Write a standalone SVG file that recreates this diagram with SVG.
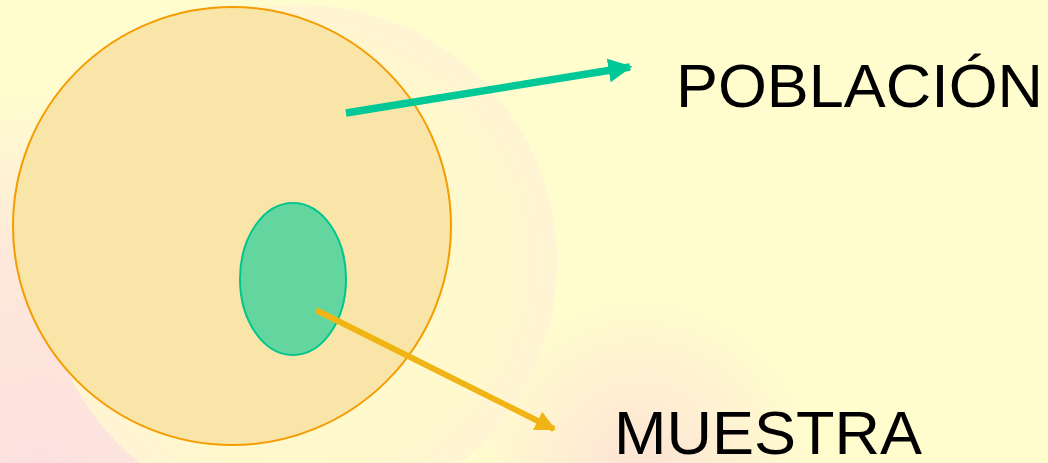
<svg xmlns="http://www.w3.org/2000/svg" width="1048" height="463" viewBox="0 0 1048 463">
  <defs>
    <radialGradient id="pinkCorner" gradientUnits="userSpaceOnUse" cx="40" cy="470" r="380">
      <stop offset="0" stop-color="#fde0df" stop-opacity="1"/>
      <stop offset="0.55" stop-color="#fde4dc" stop-opacity="0.85"/>
      <stop offset="1" stop-color="#fde6dc" stop-opacity="0"/>
    </radialGradient>
    <radialGradient id="pinkBottom" gradientUnits="userSpaceOnUse" cx="640" cy="470" r="170">
      <stop offset="0" stop-color="#fde0d6" stop-opacity="0.9"/>
      <stop offset="1" stop-color="#fde0d6" stop-opacity="0"/>
    </radialGradient>
    <radialGradient id="glow" cx="0.5" cy="0.5" r="0.5">
      <stop offset="0" stop-color="#fffbd0"/>
      <stop offset="0.8" stop-color="#fff8cd"/>
      <stop offset="1" stop-color="#fff4d4"/>
    </radialGradient>
    <marker id="headTeal" viewBox="0 0 10 10" refX="9" refY="5" markerWidth="3.2" markerHeight="3.2" orient="auto" markerUnits="strokeWidth">
      <path d="M0,0 L10,5 L0,10 Z" fill="#00c896"/>
    </marker>
    <marker id="headGold" viewBox="0 0 10 10" refX="9" refY="5" markerWidth="3.4" markerHeight="3.4" orient="auto" markerUnits="strokeWidth">
      <path d="M0,0 L10,5 L0,10 Z" fill="#f0b414"/>
    </marker>
  </defs>
  <style>
    .label { font-family: "Liberation Sans", Arial, sans-serif; font-size: 61px; fill: #000000; }
    .conn { fill: none; }
  </style>

  <g id="background">
    <rect x="0" y="0" width="1048" height="463" fill="#fffcce"/>
    <rect x="0" y="0" width="1048" height="463" fill="url(#pinkCorner)"/>
    <rect x="0" y="0" width="1048" height="463" fill="url(#pinkBottom)"/>
    <circle cx="300" cy="262" r="257" fill="url(#glow)"/>
  </g>

  <g id="poblacion-node">
    <circle cx="232" cy="226" r="219" fill="#fae5a8" stroke="#f59c00" stroke-width="2"/>
  </g>

  <g id="muestra-node">
    <ellipse cx="293" cy="279" rx="53" ry="76" fill="#62d69e" stroke="#00c58e" stroke-width="2"/>
  </g>

  <g id="connectors">
    <line class="conn" x1="346" y1="113" x2="630" y2="67" stroke="#00c896" stroke-width="7.5" marker-end="url(#headTeal)"/>
    <line class="conn" x1="316" y1="310" x2="554" y2="429" stroke="#f0b414" stroke-width="6" marker-end="url(#headGold)"/>
  </g>

  <g id="label-poblacion">
    <text class="label" x="676" y="107" textLength="367" lengthAdjust="spacingAndGlyphs">POBLACIÓN</text>
  </g>
  <g id="label-muestra">
    <text class="label" x="614" y="454" textLength="308" lengthAdjust="spacingAndGlyphs">MUESTRA</text>
  </g>
</svg>
